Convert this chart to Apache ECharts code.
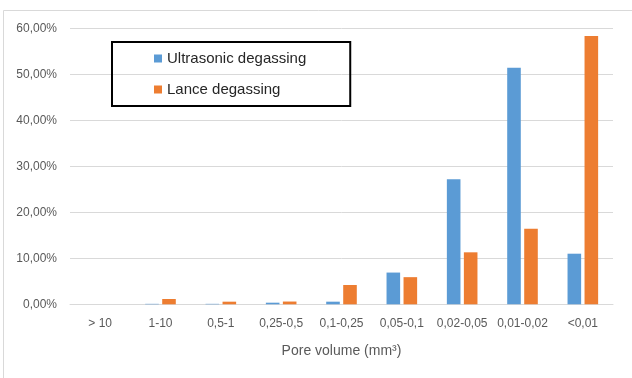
<!DOCTYPE html>
<html>
<head>
<meta charset="utf-8">
<script src="https://cdn.jsdelivr.net/npm/echarts@6/dist/echarts.min.js"></script>
<style>
  html, body { margin: 0; padding: 0; background: #fff; }
  #chart { width: 632px; height: 378px; }
</style>
</head>
<body>
<div id="chart"></div>
<script>
// Pore volume classes (mm³)
const categories = ['> 10', '1-10', '0,5-1', '0,25-0,5', '0,1-0,25', '0,05-0,1', '0,02-0,05', '0,01-0,02', '<0,01'];
// Share of pores per class, in percent
const ultrasonic = [0, 0.1, 0.1, 0.35, 0.57, 6.9, 27.2, 51.4, 11.0];
const lance = [0, 1.15, 0.57, 0.6, 4.2, 5.9, 11.3, 16.4, 58.3];
const seriesNames = ['Ultrasonic degassing', 'Lance degassing'];
const yTicks = [0, 10, 20, 30, 40, 50, 60];

const font = '"Liberation Sans", "DejaVu Sans", sans-serif';
const chart = echarts.init(document.getElementById('chart'));

chart.setOption({
  animation: false,
  backgroundColor: '#fff',
  textStyle: { fontFamily: font },
  graphic: [{
    type: 'rect',
    shape: { x: 3.5, y: 10.5, width: 700, height: 400 },
    style: { fill: 'none', stroke: '#d9d9d9', lineWidth: 1 },
    z: -1
  }],
  grid: { left: 70, right: 19, top: 28.3, bottom: 73.7, containLabel: false },
  legend: {
    orient: 'vertical',
    left: 112,
    top: 42,
    padding: [9, 44, 9, 42],
    itemGap: 16,
    itemWidth: 8,
    itemHeight: 8,
    icon: 'rect',
    borderColor: '#000',
    borderWidth: 2,
    textStyle: { fontSize: 15, color: '#262626', fontFamily: font, lineHeight: 14, height: 14 },
    data: seriesNames
  },
  xAxis: {
    type: 'category',
    data: categories,
    name: 'Pore volume (mm³)',
    nameLocation: 'middle',
    nameGap: 40,
    nameTextStyle: { fontSize: 14, color: '#595959', fontFamily: font },
    axisLine: { lineStyle: { color: '#d9d9d9', width: 1 } },
    axisTick: { show: false },
    axisLabel: { fontSize: 12, color: '#595959', margin: 13, interval: 0 }
  },
  yAxis: {
    type: 'value',
    min: yTicks[0],
    max: yTicks[yTicks.length - 1],
    interval: 10,
    axisLine: { show: false },
    axisTick: { show: false },
    splitLine: { lineStyle: { color: '#d9d9d9', width: 1 } },
    axisLabel: {
      fontSize: 12,
      color: '#595959',
      margin: 13,
      formatter: v => v.toFixed(2).replace('.', ',') + '%'
    }
  },
  series: [
    {
      name: seriesNames[0],
      type: 'bar',
      data: ultrasonic,
      barWidth: 13.6,
      barGap: '25%',
      itemStyle: { color: '#5B9BD5' }
    },
    {
      name: seriesNames[1],
      type: 'bar',
      data: lance,
      barWidth: 13.6,
      barGap: '25%',
      itemStyle: { color: '#ED7D31' }
    }
  ]
});
</script>
</body>
</html>
